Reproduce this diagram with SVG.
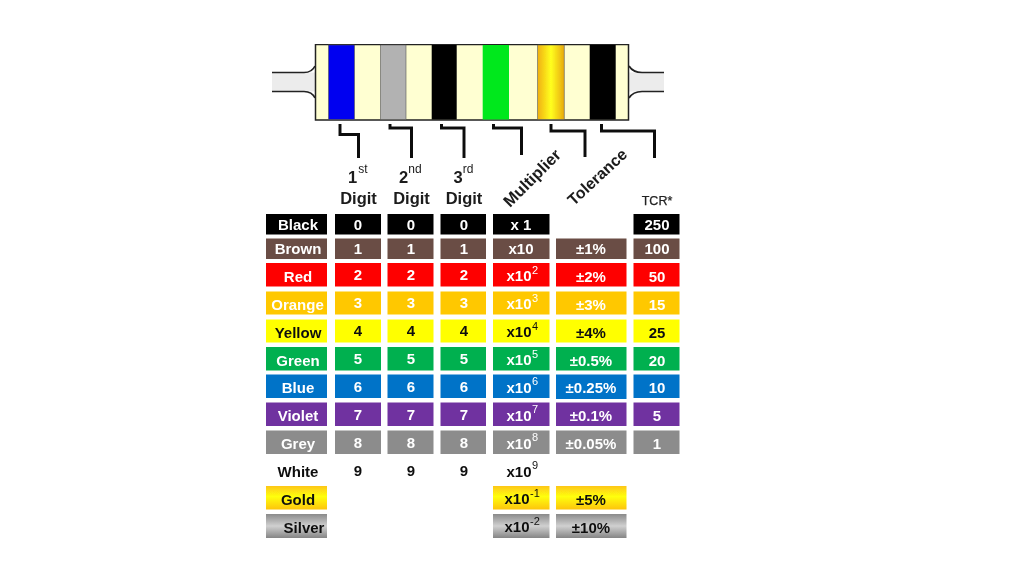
<svg xmlns="http://www.w3.org/2000/svg" width="1024" height="576" viewBox="0 0 1024 576">
<style>
text{font-family:"Liberation Sans",Arial,sans-serif;font-weight:bold;text-anchor:middle}
.c{font-size:15px}
.h{font-size:16.5px;fill:#1a1a1a}
.w{fill:#fff}.k{fill:#111}
.s{font-size:11px;font-weight:normal}
.o{font-size:12px;font-weight:normal;fill:#1a1a1a}
.band{stroke:#555;stroke-width:.6}
.lead{stroke:#222;stroke-width:1.7;fill:none}
.conn{stroke:#111;stroke-width:3;fill:none}
.black{fill:#000}.brown{fill:#6b4d45}.red{fill:#fe0000}.orange{fill:#ffc800}.yellow{fill:#ffff00}.green{fill:#00b050}.blue{fill:#0073c8}.violet{fill:#7030a0}.grey{fill:#8c8c8c}
.gold{fill:url(#gold)}.silver{fill:url(#silver)}
</style>
<defs>
<linearGradient id="gold" x1="0" y1="0" x2="0" y2="1"><stop offset="0" stop-color="#fdc614"/><stop offset=".45" stop-color="#ffff10"/><stop offset="1" stop-color="#fdc40a"/></linearGradient>
<linearGradient id="silver" x1="0" y1="0" x2="0" y2="1"><stop offset="0" stop-color="#8a8a8a"/><stop offset=".5" stop-color="#d0d0d0"/><stop offset="1" stop-color="#858585"/></linearGradient>
<linearGradient id="goldBand" x1="0" y1="0" x2="1" y2="0"><stop offset="0" stop-color="#f0b010"/><stop offset=".5" stop-color="#ffff20"/><stop offset="1" stop-color="#e8a90c"/></linearGradient>
<filter id="soft" x="0" y="0" width="100%" height="100%"><feGaussianBlur stdDeviation="0.35"/></filter>
</defs>
<rect width="1024" height="576" fill="#fff"/>
<g filter="url(#soft)">
<g id="resistor">
<rect x="272" y="72.500" width="44" height="19" fill="#ececec"/>
<rect x="628" y="72.500" width="36" height="19" fill="#ececec"/>
<path class="lead" d="M272 72.500H304Q312 72.500 315 66M272 91.500H304Q312 91.500 315 98"/>
<path class="lead" d="M664 72.500H642Q633 72.500 629 66M664 91.500H642Q633 91.500 629 98"/>
<rect x="315.500" y="44.500" width="313" height="75.500" fill="#ffffd2" stroke="#222" stroke-width="1.500"/>
<rect class="band" x="328.500" y="45" width="26" height="74.500" fill="#0000f0"/>
<rect class="band" x="380.500" y="45" width="25.500" height="74.500" fill="#b2b2b2"/>
<rect x="431.700" y="45" width="25" height="74.500" fill="#000"/>
<rect x="482.700" y="45" width="26.300" height="74.500" fill="#00e81c"/>
<rect class="band" x="537.700" y="45" width="26.500" height="74.500" fill="url(#goldBand)"/>
<rect x="589.700" y="45" width="26" height="74.500" fill="#000"/>
</g>

<g id="connectors">
<path class="conn" d="M340 124V134.500H358.500V158"/>
<path class="conn" d="M390 124V128H411.500V158"/>
<path class="conn" d="M441.500 124V128H464V158"/>
<path class="conn" d="M493.500 124V128H521.500V155"/>
<path class="conn" d="M551 124V131H585V157"/>
<path class="conn" d="M601.500 124V131H654.500V158"/>
</g>

<g id="headers">
<text class="h" x="352.500" y="183">1</text><text class="o" x="363" y="173">st</text>
<text class="h" x="403.500" y="183">2</text><text class="o" x="415" y="173">nd</text>
<text class="h" x="458" y="183">3</text><text class="o" x="468" y="173">rd</text>
<text class="h" x="358.500" y="204">Digit</text>
<text class="h" x="411.500" y="204">Digit</text>
<text class="h" x="464" y="204">Digit</text>
<text class="h" transform="translate(536 182) rotate(-45)" style="font-size:16.500px">Multiplier</text>
<text class="h" transform="translate(601 181) rotate(-43)" style="font-size:16px">Tolerance</text>
<text x="657" y="205" style="font-size:12.500px;font-weight:normal;fill:#222;stroke:#222;stroke-width:.25">TCR*</text>
</g>

<g id="row-black">
<rect class="black" x="266" y="214" width="61" height="20.500"/><rect class="black" x="335" y="214" width="46" height="20.500"/><rect class="black" x="387.500" y="214" width="46" height="20.500"/><rect class="black" x="440.500" y="214" width="45.500" height="20.500"/><rect class="black" x="493" y="214" width="56.500" height="20.500"/><rect class="black" x="633.500" y="214" width="46" height="20.500"/>
<text class="c w" x="298" y="229.500">Black</text><text class="c w" x="358" y="229.500">0</text><text class="c w" x="411" y="229.500">0</text><text class="c w" x="464" y="229.500">0</text><text class="c w" x="521" y="229.500">x 1</text><text class="c w" x="657" y="229.500">250</text>
</g>
<g id="row-brown">
<rect class="brown" x="266" y="238.500" width="61" height="20.500"/><rect class="brown" x="335" y="238.500" width="46" height="20.500"/><rect class="brown" x="387.500" y="238.500" width="46" height="20.500"/><rect class="brown" x="440.500" y="238.500" width="45.500" height="20.500"/><rect class="brown" x="493" y="238.500" width="56.500" height="20.500"/><rect class="brown" x="556" y="238.500" width="70.500" height="20.500"/><rect class="brown" x="633.500" y="238.500" width="46" height="20.500"/>
<text class="c w" x="298" y="254">Brown</text><text class="c w" x="358" y="254">1</text><text class="c w" x="411" y="254">1</text><text class="c w" x="464" y="254">1</text><text class="c w" x="521" y="254">x10</text><text class="c w" x="591" y="254">±1%</text><text class="c w" x="657" y="254">100</text>
</g>
<g id="row-red">
<rect class="red" x="266" y="263" width="61" height="23.500"/><rect class="red" x="335" y="263" width="46" height="23.500"/><rect class="red" x="387.500" y="263" width="46" height="23.500"/><rect class="red" x="440.500" y="263" width="45.500" height="23.500"/><rect class="red" x="493" y="263" width="56.500" height="23.500"/><rect class="red" x="556" y="263" width="70.500" height="23.500"/><rect class="red" x="633.500" y="263" width="46" height="23.500"/>
<text class="c w" x="298" y="282">Red</text><text class="c w" x="358" y="280">2</text><text class="c w" x="411" y="280">2</text><text class="c w" x="464" y="280">2</text><text class="c w" x="519" y="281">x10</text><text class="s w" x="535" y="274">2</text><text class="c w" x="591" y="282">±2%</text><text class="c w" x="657" y="282">50</text>
</g>
<g id="row-orange">
<rect class="orange" x="266" y="291.500" width="61" height="23"/><rect class="orange" x="335" y="291.500" width="46" height="23"/><rect class="orange" x="387.500" y="291.500" width="46" height="23"/><rect class="orange" x="440.500" y="291.500" width="45.500" height="23"/><rect class="orange" x="493" y="291.500" width="56.500" height="23"/><rect class="orange" x="556" y="291.500" width="70.500" height="23"/><rect class="orange" x="633.500" y="291.500" width="46" height="23"/>
<text class="c w" x="297.500" y="310">Orange</text><text class="c w" x="358" y="308">3</text><text class="c w" x="411" y="308">3</text><text class="c w" x="464" y="308">3</text><text class="c w" x="519" y="309">x10</text><text class="s w" x="535" y="302">3</text><text class="c w" x="591" y="310">±3%</text><text class="c w" x="657" y="310">15</text>
</g>
<g id="row-yellow">
<rect class="yellow" x="266" y="319.500" width="61" height="23"/><rect class="yellow" x="335" y="319.500" width="46" height="23"/><rect class="yellow" x="387.500" y="319.500" width="46" height="23"/><rect class="yellow" x="440.500" y="319.500" width="45.500" height="23"/><rect class="yellow" x="493" y="319.500" width="56.500" height="23"/><rect class="yellow" x="556" y="319.500" width="70.500" height="23"/><rect class="yellow" x="633.500" y="319.500" width="46" height="23"/>
<text class="c k" x="298" y="337.500">Yellow</text><text class="c k" x="358" y="336">4</text><text class="c k" x="411" y="336">4</text><text class="c k" x="464" y="336">4</text><text class="c k" x="519" y="337">x10</text><text class="s k" x="535" y="330">4</text><text class="c k" x="591" y="337.500">±4%</text><text class="c k" x="657" y="337.500">25</text>
</g>
<g id="row-green">
<rect class="green" x="266" y="347" width="61" height="23.500"/><rect class="green" x="335" y="347" width="46" height="23.500"/><rect class="green" x="387.500" y="347" width="46" height="23.500"/><rect class="green" x="440.500" y="347" width="45.500" height="23.500"/><rect class="green" x="493" y="347" width="56.500" height="23.500"/><rect class="green" x="556" y="347" width="70.500" height="23.500"/><rect class="green" x="633.500" y="347" width="46" height="23.500"/>
<text class="c w" x="298" y="366">Green</text><text class="c w" x="358" y="364">5</text><text class="c w" x="411" y="364">5</text><text class="c w" x="464" y="364">5</text><text class="c w" x="519" y="365">x10</text><text class="s w" x="535" y="358">5</text><text class="c w" x="591" y="366">±0.5%</text><text class="c w" x="657" y="366">20</text>
</g>
<g id="row-blue">
<rect class="blue" x="266" y="374.500" width="61" height="23.500"/><rect class="blue" x="335" y="374.500" width="46" height="23.500"/><rect class="blue" x="387.500" y="374.500" width="46" height="23.500"/><rect class="blue" x="440.500" y="374.500" width="45.500" height="23.500"/><rect class="blue" x="493" y="374.500" width="56.500" height="23.500"/><rect class="blue" x="556" y="374.500" width="70.500" height="24.500"/><rect class="blue" x="633.500" y="374.500" width="46" height="23.500"/>
<text class="c w" x="298" y="393">Blue</text><text class="c w" x="358" y="392">6</text><text class="c w" x="411" y="392">6</text><text class="c w" x="464" y="392">6</text><text class="c w" x="519" y="393">x10</text><text class="s w" x="535" y="385">6</text><text class="c w" x="591" y="393">±0.25%</text><text class="c w" x="657" y="393">10</text>
</g>
<g id="row-violet">
<rect class="violet" x="266" y="402.500" width="61" height="23.500"/><rect class="violet" x="335" y="402.500" width="46" height="23.500"/><rect class="violet" x="387.500" y="402.500" width="46" height="23.500"/><rect class="violet" x="440.500" y="402.500" width="45.500" height="23.500"/><rect class="violet" x="493" y="402.500" width="56.500" height="23.500"/><rect class="violet" x="556" y="402.500" width="70.500" height="23.500"/><rect class="violet" x="633.500" y="402.500" width="46" height="23.500"/>
<text class="c w" x="298" y="421">Violet</text><text class="c w" x="358" y="420">7</text><text class="c w" x="411" y="420">7</text><text class="c w" x="464" y="420">7</text><text class="c w" x="519" y="421">x10</text><text class="s w" x="535" y="413">7</text><text class="c w" x="591" y="421">±0.1%</text><text class="c w" x="657" y="421">5</text>
</g>
<g id="row-grey">
<rect class="grey" x="266" y="430.500" width="61" height="23.500"/><rect class="grey" x="335" y="430.500" width="46" height="23.500"/><rect class="grey" x="387.500" y="430.500" width="46" height="23.500"/><rect class="grey" x="440.500" y="430.500" width="45.500" height="23.500"/><rect class="grey" x="493" y="430.500" width="56.500" height="23.500"/><rect class="grey" x="556" y="430.500" width="70.500" height="23.500"/><rect class="grey" x="633.500" y="430.500" width="46" height="23.500"/>
<text class="c w" x="298" y="449">Grey</text><text class="c w" x="358" y="448">8</text><text class="c w" x="411" y="448">8</text><text class="c w" x="464" y="448">8</text><text class="c w" x="519" y="449">x10</text><text class="s w" x="535" y="441">8</text><text class="c w" x="591" y="449">±0.05%</text><text class="c w" x="657" y="449">1</text>
</g>
<g id="row-white">
<text class="c k" x="298" y="477">White</text><text class="c k" x="358" y="476">9</text><text class="c k" x="411" y="476">9</text><text class="c k" x="464" y="476">9</text><text class="c k" x="519" y="476.500">x10</text><text class="s k" x="535" y="469">9</text>
</g>
<g id="row-gold">
<rect class="gold" x="266" y="486" width="61" height="23.500"/><rect class="gold" x="493" y="486" width="56.500" height="23.500"/><rect class="gold" x="556" y="486" width="70.500" height="23.500"/>
<text class="c k" x="298" y="505">Gold</text><text class="c k" x="517" y="504">x10</text><text class="s k" x="535" y="497">-1</text><text class="c k" x="591" y="505">±5%</text>
</g>
<g id="row-silver">
<rect class="silver" x="266" y="514" width="61" height="24"/><rect class="silver" x="493" y="514" width="56.500" height="24"/><rect class="silver" x="556" y="514" width="70.500" height="24"/>
<text class="c k" x="304" y="533">Silver</text><text class="c k" x="517" y="532">x10</text><text class="s k" x="535" y="525">-2</text><text class="c k" x="591" y="533">±10%</text>
</g>
</g>
</svg>
